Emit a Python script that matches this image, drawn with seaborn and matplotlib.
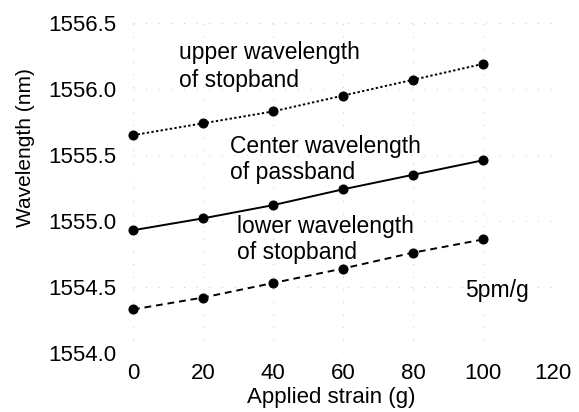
import matplotlib
matplotlib.use("Agg")
import matplotlib.pyplot as plt
import seaborn as sns
import pandas as pd

strain = [0, 20, 40, 60, 80, 100]
upper_stopband = [1555.65, 1555.74, 1555.83, 1555.95, 1556.07, 1556.19]
center_passband = [1554.93, 1555.02, 1555.12, 1555.24, 1555.35, 1555.46]
lower_stopband = [1554.33, 1554.42, 1554.53, 1554.64, 1554.76, 1554.86]
x_ticks = [0, 20, 40, 60, 80, 100, 120]
y_ticks = [1554.0, 1554.5, 1555.0, 1555.5, 1556.0, 1556.5]

sns.set_style("white")
plt.rcParams['font.family'] = ['Liberation Sans', 'DejaVu Sans']
plt.rcParams.update({"text.color": "black", "axes.labelcolor": "black",
                     "xtick.color": "black", "ytick.color": "black"})

fig = plt.figure(figsize=(5.79, 4.12), dpi=100)
ax = fig.add_axes([133/579, 1 - 353/412, (553-133)/579, (353-23)/412])

series = [
    (upper_stopband, (0, (1.2, 1.2))),
    (center_passband, '-'),
    (lower_stopband, (0, (3.5, 2.5))),
]
for vals, ls in series:
    df = pd.DataFrame({"strain": strain, "wl": vals})
    sns.lineplot(data=df, x="strain", y="wl", ax=ax, color="black",
                 linewidth=1.4, linestyle=ls, marker="o", markersize=6.5,
                 markeredgecolor="black", markerfacecolor="black", clip_on=False)

ax.set_xlim(0, 120)
ax.set_ylim(1554.0, 1556.5)
ax.set_xticks(x_ticks)
ax.set_yticks(y_ticks)
ax.set_xticklabels([str(v) for v in x_ticks])
ax.set_yticklabels([f"{v:.1f}" for v in y_ticks])
ax.tick_params(axis='both', labelsize=16, length=0, labelcolor="black")
ax.tick_params(axis='x', pad=7)
ax.tick_params(axis='y', pad=12)
for s in ax.spines.values():
    s.set_visible(False)
ax.grid(True, color="#c8c8c8", linestyle=(0, (1, 12)), linewidth=0.7)

ax.set_xlabel("Applied strain (g)", fontsize=16, color="black")
ax.set_ylabel("Wavelength (nm)", fontsize=15, color="black")
ax.xaxis.set_label_coords((331-133)/420, (353-398)/330)
ax.xaxis.label.set_va("center")
ax.yaxis.set_label_coords((25-133)/420, (353-148)/330)
ax.yaxis.label.set_va("center")
ax.yaxis.label.set_ha("center")

fs = 16.5
fig.text(179/579, 1 - 53/412, "upper wavelength", fontsize=fs, va="center", ha="left", color="black")
fig.text(179/579, 1 - 80/412, "of stopband", fontsize=fs, va="center", ha="left", color="black")
fig.text(230/579, 1 - 146/412, "Center wavelength", fontsize=fs, va="center", ha="left", color="black")
fig.text(230/579, 1 - 172/412, "of passband", fontsize=fs, va="center", ha="left", color="black")
fig.text(237/579, 1 - 227/412, "lower wavelength", fontsize=fs, va="center", ha="left", color="black")
fig.text(237/579, 1 - 253/412, "of stopband", fontsize=fs, va="center", ha="left", color="black")
fig.text(465/579, 1 - 290/412, "5pm/g", fontsize=fs, va="center", ha="left", color="black")

fig.savefig("out.png", dpi=100)
